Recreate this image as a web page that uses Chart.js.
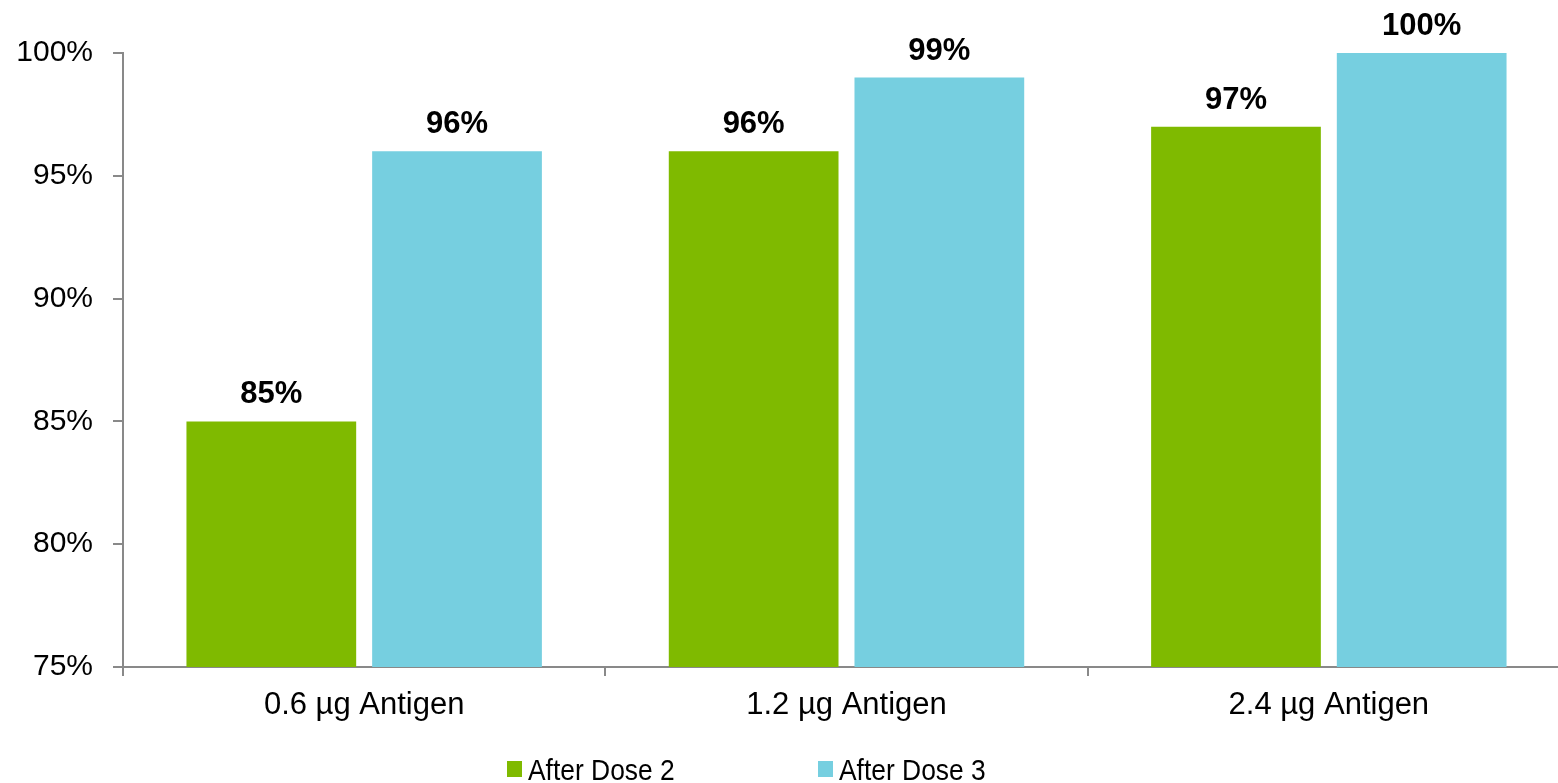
<!DOCTYPE html>
<html>
<head>
<meta charset="utf-8">
<script src="https://cdn.jsdelivr.net/npm/chart.js@4/dist/chart.umd.min.js"></script>
<style>
  html, body { margin: 0; padding: 0; background: #ffffff; overflow: hidden; }
  #wrap { width: 1571px; height: 783px; }
</style>
</head>
<body>
<div id="wrap"><canvas id="c" width="1571" height="783"></canvas></div>
<script>
// Seroconversion by antigen dose
const categories = ['0.6 µg Antigen', '1.2 µg Antigen', '2.4 µg Antigen'];
const seriesNames = ['After Dose 2', 'After Dose 3'];
const afterDose2 = [85, 96, 97];
const afterDose3 = [96, 99, 100];
const yMin = 75, yMax = 100, yStep = 5;

const GREEN = '#7fba00';
const CYAN = '#76cfe0';
const AXIS = '#898989';
const FONT = '"Liberation Sans", Arial, sans-serif';

// Bold value labels above each bar
const valueLabels = {
  id: 'valueLabels',
  afterDatasetsDraw(chart) {
    const ctx = chart.ctx;
    ctx.save();
    ctx.font = 'bold 31px ' + FONT;
    ctx.fillStyle = '#000';
    ctx.textAlign = 'center';
    ctx.textBaseline = 'alphabetic';
    chart.data.datasets.forEach((ds, i) => {
      chart.getDatasetMeta(i).data.forEach((bar, j) => {
        ctx.fillText(ds.data[j] + '%', bar.x, bar.y - 18);
      });
    });
    ctx.restore();
  }
};

// Legend row under the category labels
const legendRow = {
  id: 'legendRow',
  afterDraw(chart) {
    const ctx = chart.ctx;
    const starts = [507, 818];
    ctx.save();
    ctx.font = '30px ' + FONT;
    ctx.textBaseline = 'alphabetic';
    ctx.textAlign = 'left';
    chart.data.datasets.forEach((ds, i) => {
      const x = starts[i];
      ctx.fillStyle = ds.backgroundColor;
      ctx.fillRect(x, 761, 15, 16);
      ctx.fillStyle = '#000';
      ctx.save();
      ctx.translate(x + 21, 780);
      ctx.scale(0.88, 1);
      ctx.fillText(ds.label, 0, 0);
      ctx.restore();
    });
    ctx.restore();
  }
};

new Chart(document.getElementById('c'), {
  type: 'bar',
  data: {
    labels: categories,
    datasets: [
      { label: seriesNames[0], data: afterDose2, backgroundColor: GREEN },
      { label: seriesNames[1], data: afterDose3, backgroundColor: CYAN }
    ]
  },
  options: {
    responsive: false,
    devicePixelRatio: 1,
    animation: false,
    layout: { padding: { top: 53, right: 1, bottom: 0, left: 0 } },
    categoryPercentage: 0.77,
    barPercentage: 0.914,
    plugins: {
      legend: { display: false },
      tooltip: { enabled: false }
    },
    scales: {
      x: {
        afterFit(s) { s.height = 116; },
        grid: { display: true, drawOnChartArea: false, tickLength: 9, color: AXIS, lineWidth: 2, offset: true },
        border: { display: true, color: AXIS, width: 2 },
        ticks: { color: '#000', font: { family: FONT, size: 31 }, padding: 11, maxRotation: 0 }
      },
      y: {
        min: yMin,
        max: yMax,
        afterFit(s) { s.width = 123; },
        grid: { display: true, drawOnChartArea: false, tickLength: 10, color: AXIS, lineWidth: 2 },
        border: { display: true, color: AXIS, width: 2 },
        ticks: {
          stepSize: yStep,
          color: '#000',
          font: { family: FONT, size: 30 },
          padding: 20,
          callback: v => v + '%'
        }
      }
    }
  },
  plugins: [valueLabels, legendRow]
});
</script>
</body>
</html>
